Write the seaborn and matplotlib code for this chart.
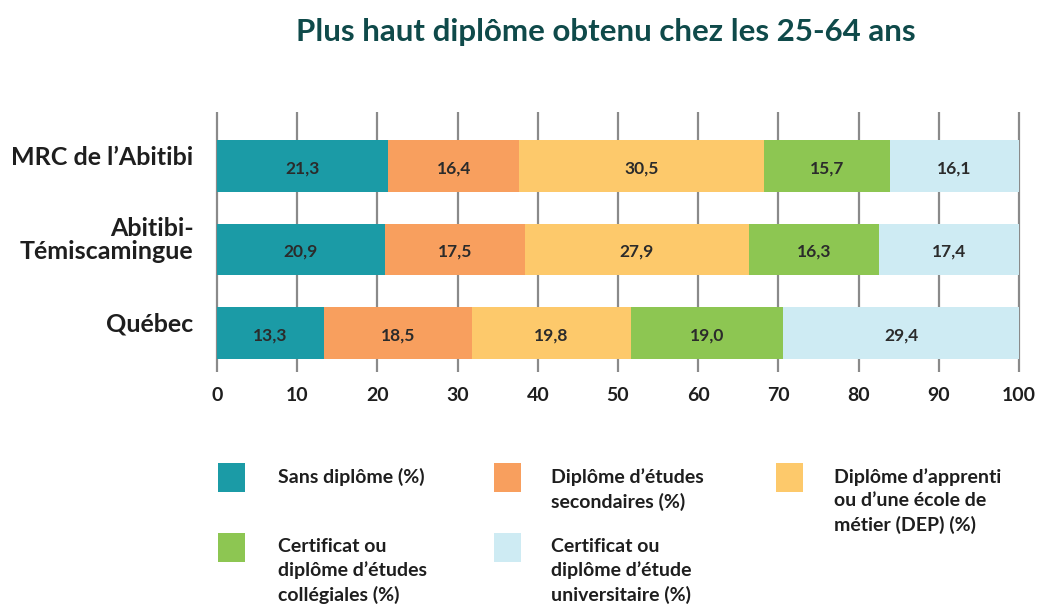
import numpy as np
import pandas as pd
import matplotlib
matplotlib.use("Agg")
import matplotlib.pyplot as plt
import matplotlib.transforms as mtransforms
from matplotlib.patches import Rectangle
import seaborn as sns

# ---- data ----
categories = ["MRC de l’Abitibi", "Abitibi-\nTémiscamingue", "Québec"]
series = [
    "Sans diplôme (%)",
    "Diplôme d’études\nsecondaires (%)",
    "Diplôme d’apprenti\nou d’une école de\nmétier (DEP) (%)",
    "Certificat ou\ndiplôme d’études\ncollégiales (%)",
    "Certificat ou\ndiplôme d’étude\nuniversitaire (%)",
]
sans_diplome = [21.3, 20.9, 13.3]
secondaires = [16.4, 17.5, 18.5]
apprenti_dep = [30.5, 27.9, 19.8]
collegiales = [15.7, 16.3, 19.0]
universitaire = [16.1, 17.4, 29.4]
xticks = [0, 10, 20, 30, 40, 50, 60, 70, 80, 90, 100]
title = "Plus haut diplôme obtenu chez les 25-64 ans"

colors = ["#1b9ba6", "#f89f5e", "#fdc96b", "#8dc652", "#ceebf3"]

values = [sans_diplome, secondaires, apprenti_dep, collegiales, universitaire]

rows = []
for s, vals in zip(series, values):
    for c, v in zip(categories, vals):
        rows.append({"categorie": c, "serie": s, "valeur": v})
df = pd.DataFrame(rows)
df["serie"] = pd.Categorical(df["serie"], categories=series, ordered=True)
df["categorie"] = pd.Categorical(df["categorie"], categories=categories, ordered=True)
df = df.sort_values(["categorie", "serie"])
df["fin"] = df.groupby("categorie", observed=True)["valeur"].cumsum()
df["debut"] = df["fin"] - df["valeur"]

# ---- figure ----
sns.set_style("white")
plt.rcParams["font.family"] = ["Lato", "DejaVu Sans"]

W, H = 1045, 607
fig = plt.figure(figsize=(W / 100, H / 100), dpi=100)
ax = fig.add_axes([213 / W, 1 - 372 / H, (1023 - 213) / W, (372 - 112) / H])

# stacked bars: draw cumulative totals from last series to first
for s, col in reversed(list(zip(series, colors))):
    sub = df[df["serie"] == s]
    sns.barplot(data=sub, x="fin", y="categorie", orient="h", color=col,
                saturation=1, width=0.62, linewidth=0, ax=ax, zorder=3)

# value labels
for _, r in df.iterrows():
    yi = categories.index(r["categorie"])
    ax.text(r["debut"] + r["valeur"] / 2, yi + 0.03,
            f"{r['valeur']:.1f}".replace(".", ","),
            ha="center", va="center", fontsize=12.5, fontweight="bold",
            color="#2b2b2b", zorder=5)

ax.set_xlim(-0.5, 100.5)
ax.set_ylim(2.47, -0.65)
ax.set_xticks(xticks)
ax.set_xticklabels([str(t) for t in xticks], fontsize=14, fontweight="bold",
                   color="#1e1e1e")
ax.set_xlabel("")
ax.set_ylabel("")
ax.tick_params(axis="x", length=0, pad=11)
ax.tick_params(axis="y", length=0, pad=14)
for lab in ax.get_yticklabels():
    lab.set_fontsize(18)
    lab.set_fontweight("bold")
    lab.set_color("#1e1e1e")
    lab.set_horizontalalignment("right")
    lab.set_multialignment("right")
    lab.set_linespacing(1.0)
offset = mtransforms.ScaledTranslation(0, 8 / 72, fig.dpi_scale_trans)
for lab in ax.get_yticklabels():
    lab.set_transform(lab.get_transform() + offset)

ax.grid(axis="x", color="#8a8a8a", linewidth=1.6, zorder=0)
ax.grid(axis="y", visible=False)
ax.set_axisbelow(True)
for sp in ax.spines.values():
    sp.set_visible(False)

# title
fig.text(606 / W, 1 - 32 / H, title, ha="center", va="center",
         fontsize=22.5, fontweight="bold", color="#0f4a4a")

# legend (manual, row-major, 3 columns)
patch_x = [218, 494, 776]
text_x = [278, 551, 834]
row_top = [463, 533]
for i, (s, col) in enumerate(zip(series, colors)):
    c, rr = i % 3, i // 3
    fig.add_artist(Rectangle((patch_x[c] / W, 1 - (row_top[rr] + 29) / H),
                             27 / W, 29 / H, transform=fig.transFigure,
                             facecolor=col, edgecolor="none"))
    fig.text(text_x[c] / W, 1 - (row_top[rr] + 5) / H, s, ha="left", va="top",
             fontsize=14, fontweight="bold", color="#1e1e1e",
             linespacing=1.45)

fig.savefig("out.png", dpi=100)
